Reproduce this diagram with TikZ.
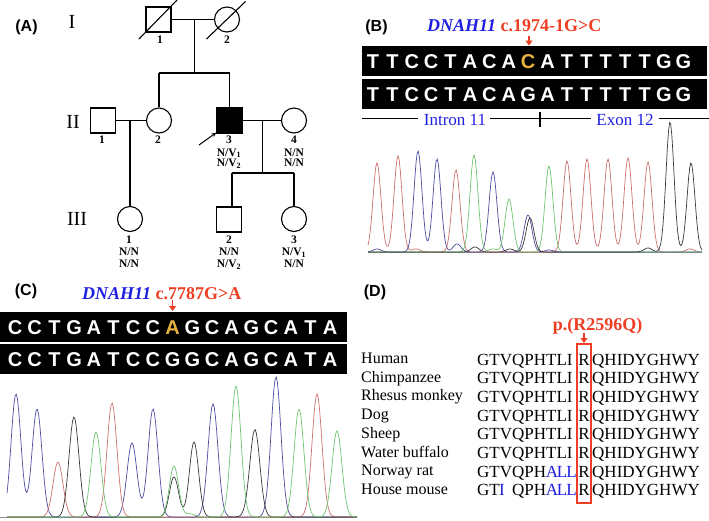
\documentclass[tikz,border=0pt]{standalone}
\usepackage{fontspec}
\setmainfont{Liberation Serif}
\setsansfont{Liberation Sans}
\usetikzlibrary{arrows.meta}
\definecolor{lblue}{RGB}{30,30,225}
\definecolor{lred}{RGB}{238,62,36}
\definecolor{gold}{RGB}{232,178,62}
\definecolor{chred}{RGB}{205,110,110}
\definecolor{chblue}{RGB}{75,75,160}
\definecolor{chgreen}{RGB}{110,195,110}
\definecolor{chblack}{RGB}{55,55,55}
\definecolor{basegray}{RGB}{140,140,140}
\pgfmathdeclarefunction{pk}{4}{\pgfmathparse{#3*exp(-min(((#1-#2)/#4)^2,9))}}
\newcommand{\fs}[1]{\fontsize{#1}{#1}\selectfont}
\tikzset{
  panel/.style={font=\sffamily\bfseries\fs{16}, inner sep=0, anchor=base},
  gen/.style={font=\fs{20}, inner sep=0, anchor=base},
  plab/.style={font=\bfseries\fs{11.5}, inner sep=0, anchor=base, text height=8pt, text depth=1pt},
  sq/.style={draw, line width=1.1pt, minimum size=25pt, inner sep=0},
  ci/.style={draw, circle, line width=1.1pt, minimum size=25pt, inner sep=0},
  ped/.style={line width=1.1pt},
  seqlet/.style={font=\sffamily\bfseries\fs{20}, inner sep=0, anchor=base},
  head/.style={font=\bfseries\fs{18}, inner sep=0, anchor=base west},
  redarrow/.style={lred, line width=1.3pt, -{Triangle[length=5pt,width=7pt]}},
  trace/.style={line width=0.7pt},
  aa/.style={font=\fs{17}, inner sep=0, anchor=base west},
  aac/.style={font=\fs{17}, inner sep=0, anchor=base},
  sp/.style={font=\fs{16}, inner sep=0, anchor=base west},
  region/.style={font=\fs{17}, text=lblue, inner sep=0, anchor=base},
}
\begin{document}
\begin{tikzpicture}[x=1pt,y=-1pt]
\useasboundingbox (0,0) rectangle (709,520);

% ================= (A) pedigree =================
\node[panel] (pA) at (26.5,31) {(A)};
\node[gen] (gI) at (72,28) {I};
\node[gen] (gII) at (73,128) {II};
\node[gen] (gIII) at (77,225) {III};

\node[sq] (I1) at (158.5,19.5) {};
\node[ci] (I2) at (227,19.5) {};
\draw[ped] ([shift={(-19.5,19.5)}]I1.center) -- ([shift={(18.5,-19.5)}]I1.center);
\draw[ped] ([shift={(-20.5,19.5)}]I2.center) -- ([shift={(18.5,-18)}]I2.center);
\draw[ped] (I1.east) -- (I2.west);
\coordinate (m1) at (194.5,19.5);
\coordinate (s1) at (194.5,73);
\draw[ped] (m1) -- (s1);
\coordinate (s1L) at (159,73);
\coordinate (s1R) at (229.5,73);
\draw[ped] (s1L) -- (s1R);

\node[sq] (II1) at (103,120.5) {};
\node[ci] (II2) at (159,120.5) {};
\node[sq, fill=black] (II3) at (229.5,120.5) {};
\node[ci] (II4) at (294,120.5) {};
\draw[ped] (s1L) -- (II2.north);
\draw[ped] (s1R) -- (II3.north);
\draw[ped] (II1.east) -- (II2.west);
\draw[ped] (II3.east) -- (II4.west);
\coordinate (m2) at (130,120.5);
\node[ci] (III1) at (130,219) {};
\draw[ped] (m2) -- (III1.north);
\coordinate (m3) at (262.5,120.5);
\coordinate (s3) at (262.5,173);
\draw[ped] (m3) -- (s3);
\coordinate (s3L) at (232,173);
\coordinate (s3R) at (294,173);
\draw[ped] (s3L) -- (s3R);
\node[sq] (III2) at (229,219.5) {};
\node[ci] (III3) at (294,219) {};
\draw[ped] (s3L) -- (s3L |- III2.north);
\draw[ped] (s3R) -- (III3.north);
\coordinate (prb) at (199,145);
\draw[line width=1pt, -{Stealth[length=5pt,width=4pt]}] (prb) -- ([shift={(-13,12)}]II3.center);

\node[plab] (lI1) at (160,43) {1};
\node[plab] (lI2) at (227,43) {2};
\node[plab] (lII1) at (102,143.5) {1};
\node[plab] (lII2) at (158,143.5) {2};
\node[plab] (lII3) at (229,143.5) {3};
\node[plab] (lII3a) at (229,156) {N/V\textsubscript{1}};
\node[plab] (lII3b) at (229,166.5) {N/V\textsubscript{2}};
\node[plab] (lII4) at (294,143.5) {4};
\node[plab] (lII4a) at (294,156) {N/N};
\node[plab] (lII4b) at (294,166.5) {N/N};
\node[plab] (lIII1) at (129,243) {1};
\node[plab] (lIII1a) at (129,255.5) {N/N};
\node[plab] (lIII1b) at (129,267.5) {N/N};
\node[plab] (lIII2) at (229,243) {2};
\node[plab] (lIII2a) at (229,255.5) {N/N};
\node[plab] (lIII2b) at (229,267.5) {N/V\textsubscript{2}};
\node[plab] (lIII3) at (294,243) {3};
\node[plab] (lIII3a) at (294,255.5) {N/V\textsubscript{1}};
\node[plab] (lIII3b) at (294,267.5) {N/N};

% ================= (B) =================
\node[panel] (pB) at (376.5,31) {(B)};
\node[head] (hB) at (427,31.5) {\textcolor{lblue}{\itshape DNAH11} \textcolor{lred}{c.1974-1G>C}};
\coordinate (ba1) at (529,35.5);
\coordinate (ba2) at (529,45.5);
\draw[redarrow] (ba1) -- (ba2);
\fill (362,46) rectangle (707,76);
\fill (362,79) rectangle (707,109);
\foreach \ch/\cc [count=\i from 0] in {T/white,T/white,C/white,C/white,T/white,A/white,C/white,A/white,C/gold,A/white,T/white,T/white,T/white,T/white,T/white,G/white,G/white}
  \node[seqlet, text=\cc] (bu\i) at ({373+19.4*\i},68.2) {\ch};
\foreach \ch [count=\i from 0] in {T,T,C,C,T,A,C,A,G,A,T,T,T,T,T,G,G}
  \node[seqlet, text=white] (bl\i) at ({373+19.4*\i},101.2) {\ch};
\node[region] (intr) at (455,125) {Intron 11};
\node[region] (exon) at (625,125) {Exon 12};
\draw[line width=0.9pt] (362,118) -- ([xshift=-6pt]intr.west |- 0,118);
\draw[line width=0.9pt] ([xshift=4pt]intr.east |- 0,118) -- ([xshift=-5pt]exon.west |- 0,118);
\draw[line width=0.9pt] ([xshift=5pt]exon.east |- 0,118) -- (709,118);
\draw[line width=1.5pt] (540,112) -- (540,127);

% chromatogram B
\draw[basegray, line width=0.8pt] (368,252.5) -- (702,252.5);
\draw[trace, chred] plot[domain=368:702, samples=300] (\x,{252-pk(\x,377,89,5.6)-pk(\x,398,96,5.6)-pk(\x,456,82,5.6)-pk(\x,567,91,5.6)-pk(\x,587,93,5.6)-pk(\x,608,93,5.6)-pk(\x,628,94,5.6)-pk(\x,648,90,5.6)-pk(\x,416,3,5.6)-pk(\x,690,3,5.6)});
\draw[trace, chblue] plot[domain=368:702, samples=300] (\x,{252-pk(\x,418,101,5.6)-pk(\x,437,93,5.6)-pk(\x,493,80,5.6)-pk(\x,528,37,5.6)-pk(\x,457,8,5.6)-pk(\x,377,3,5.6)-pk(\x,549,2,5.6)});
\draw[trace, chgreen] plot[domain=368:702, samples=300] (\x,{252-pk(\x,474,97,5.6)-pk(\x,509,53,5.6)-pk(\x,549,86,5.6)-pk(\x,493,3,5.6)});
\draw[trace, chblack] plot[domain=368:702, samples=300] (\x,{252-pk(\x,530,34,5.6)-pk(\x,670,130,5.6)-pk(\x,691,89,5.6)-pk(\x,475,5,5.6)-pk(\x,510,3,5.6)-pk(\x,648,4,5.6)});

% ================= (C) =================
\node[panel] (pC) at (26,295) {(C)};
\node[head] (hC) at (82,299.5) {\textcolor{lblue}{\itshape DNAH11} \textcolor{lred}{c.7787G>A}};
\coordinate (ca1) at (172.6,300);
\coordinate (ca2) at (172.6,311);
\draw[redarrow] (ca1) -- (ca2);
\fill (0,312) rectangle (347,342);
\fill (0,344) rectangle (347,374);
\foreach \ch/\cc [count=\i from 0] in {C/white,C/white,T/white,G/white,A/white,T/white,C/white,C/white,A/gold,G/white,C/white,A/white,G/white,C/white,A/white,T/white,A/white}
  \node[seqlet, text=\cc] (cu\i) at ({15+19.7*\i},334.2) {\ch};
\foreach \ch [count=\i from 0] in {C,C,T,G,A,T,C,C,G,G,C,A,G,C,A,T,A}
  \node[seqlet, text=white] (cl\i) at ({15+19.7*\i},366.2) {\ch};

% chromatogram C
\draw[basegray, line width=0.8pt] (0,517.5) -- (357,517.5);
\draw[trace, chblue] plot[domain=7:357, samples=300] (\x,{517-pk(\x,16,123,7)-pk(\x,37,108,7)-pk(\x,132,74,7)-pk(\x,153,108,7)-pk(\x,213,113,7)-pk(\x,276,140,7)});
\draw[trace, chred] plot[domain=7:357, samples=300] (\x,{517-pk(\x,58,55,7)-pk(\x,112,114,7)-pk(\x,317,123,7)});
\draw[trace, chblack] plot[domain=7:357, samples=300] (\x,{517-pk(\x,74,100,7)-pk(\x,174,40,6.5)-pk(\x,194,75,6.5)-pk(\x,255,85,7)-pk(\x,250,4,7)});
\draw[trace, chgreen] plot[domain=7:357, samples=300] (\x,{517-pk(\x,96,85,7)-pk(\x,174,51,6.5)-pk(\x,236,131,7)-pk(\x,299,108,7)-pk(\x,337,86,7)-pk(\x,190,3,7)});

% ================= (D) =================
\node[panel] (pD) at (375,296) {(D)};
\node[font=\bfseries\fs{18}, text=lred, inner sep=0, anchor=base] (hD) at (597.5,330) {p.(R2596Q)};
\coordinate (da1) at (584,332.5);
\coordinate (da2) at (584,343);
\draw[redarrow] (da1) -- (da2);
\draw[draw=lred, line width=1.1pt] (577,344) rectangle (591,503);

\foreach \nm [count=\i from 0] in {Human,Chimpanzee,Rhesus monkey,Dog,Sheep,Water buffalo,Norway rat,House mouse}
  \node[sp] (sp\i) at (361,{363.5+18.7*\i}) {\nm};
\foreach \i in {0,...,5} {
  \node[aa] (sa\i) at (477,{365+18.7*\i}) {GTVQPHTLI};
  \node[aac] (sr\i) at (584,{365+18.7*\i}) {R};
  \node[aa] (sb\i) at (592,{365+18.7*\i}) {QHIDYGHWY};
}
% Norway rat
\node[aa] (sa6) at (477,477.2) {GTVQPH};
\node[aac, text=lblue] (sx6a) at (552,477.2) {A};
\node[aac, text=lblue] (sx6b) at (562,477.2) {L};
\node[aac, text=lblue] (sx6c) at (571.5,477.2) {L};
\node[aac] (sr6) at (584,477.2) {R};
\node[aa] (sb6) at (592,477.2) {QHIDYGHWY};
% House mouse
\node[aa] (sa7) at (477,495.9) {GT};
\node[aac, text=lblue] (sx7i) at (502,495.9) {I};
\node[aa] (sa7b) at (512,495.9) {QPH};
\node[aac, text=lblue] (sx7a) at (552,495.9) {A};
\node[aac, text=lblue] (sx7b) at (562,495.9) {L};
\node[aac, text=lblue] (sx7c) at (571.5,495.9) {L};
\node[aac] (sr7) at (584,495.9) {R};
\node[aa] (sb7) at (592,495.9) {QHIDYGHWY};
\end{tikzpicture}
\end{document}
